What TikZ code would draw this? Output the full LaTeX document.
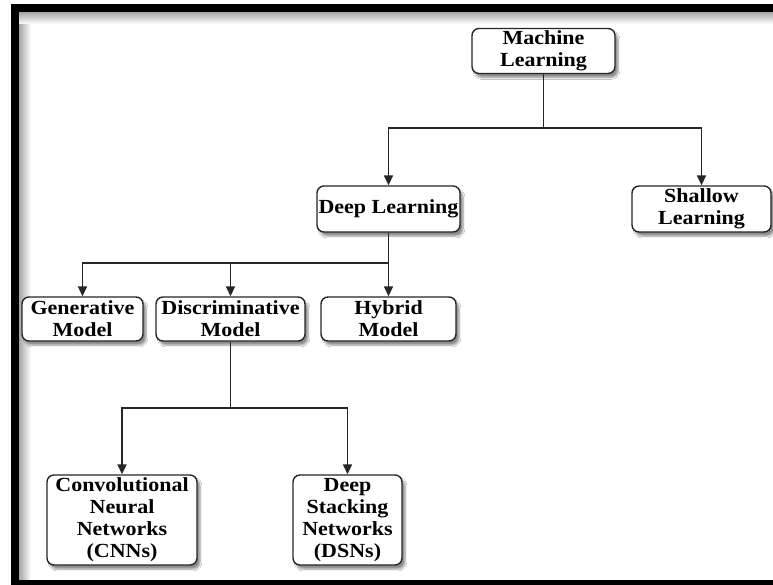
\documentclass[tikz,border=0pt]{standalone}
\usepackage{fontspec}
\setmainfont[FakeStretch=1.1]{Liberation Serif}
\usetikzlibrary{arrows.meta,shadows.blur}

\tikzset{
  box/.style={draw=black!85, line width=1.4pt, rounded corners=7pt, fill=white,
    align=center, inner sep=0pt,
    font=\fontsize{20pt}{22pt}\selectfont\bfseries,
    blur shadow={shadow xshift=3pt, shadow yshift=-4pt, shadow blur steps=6, shadow opacity=45}},
  link/.style={draw=black!85, line width=1.6pt},
  arrow/.style={link, -{Triangle[length=10pt,width=9pt]}}
}

\begin{document}
\begin{tikzpicture}[x=1pt,y=-1pt]
  \clip (0,0) rectangle (773,585);
  \useasboundingbox (0,0) rectangle (773,585);
  \fill[white] (0,0) rectangle (773,585);

  % soft inner edge of the frame
  \shade[left color=black!35, right color=white] (19,12) rectangle (31,585);
  \shade[top color=black!35, bottom color=white] (19,12) rectangle (773,24);
  % frame
  \draw[line width=8pt] (15,8) rectangle (800,584);

  % nodes
  \node[box, minimum width=143pt, minimum height=45pt] (ml)   at (543.5,51)  {Machine\\Learning};
  \node[box, minimum width=143pt, minimum height=46pt] (dl)   at (388.5,209) {Deep Learning};
  \node[box, minimum width=139pt, minimum height=46pt] (sl)   at (701.5,209) {Shallow\\Learning};
  \node[box, minimum width=121pt, minimum height=44pt] (gen)  at (82.5,319)  {Generative\\Model};
  \node[box, minimum width=149pt, minimum height=44pt] (disc) at (230.5,319) {Discriminative\\Model};
  \node[box, minimum width=135pt, minimum height=44pt] (hyb)  at (388.5,319) {Hybrid\\Model};
  \node[box, minimum width=150pt, minimum height=90pt] (cnn)  at (122,520)   {Convolutional\\Neural\\Networks\\(CNNs)};
  \node[box, minimum width=109pt, minimum height=90pt] (dsn)  at (347.5,520) {Deep\\Stacking\\Networks\\(DSNs)};

  % branch points
  \coordinate (j1) at (543.5,128);
  \coordinate (j2) at (388.5,263);
  \coordinate (j3) at (230.5,408);

  % connectors
  \draw[link]  (ml) -- (j1);
  \draw[arrow] (j1) -| (dl);
  \draw[arrow] (j1) -| (sl);

  \draw[link]  (dl) -- (j2);
  \draw[arrow] (j2) -| (gen);
  \draw[arrow] (j2) -| (disc);
  \draw[arrow] (j2) -- (hyb);

  \draw[link]  (disc) -- (j3);
  \draw[arrow] (j3) -| (cnn);
  \draw[arrow] (j3) -| (dsn);
\end{tikzpicture}
\end{document}
